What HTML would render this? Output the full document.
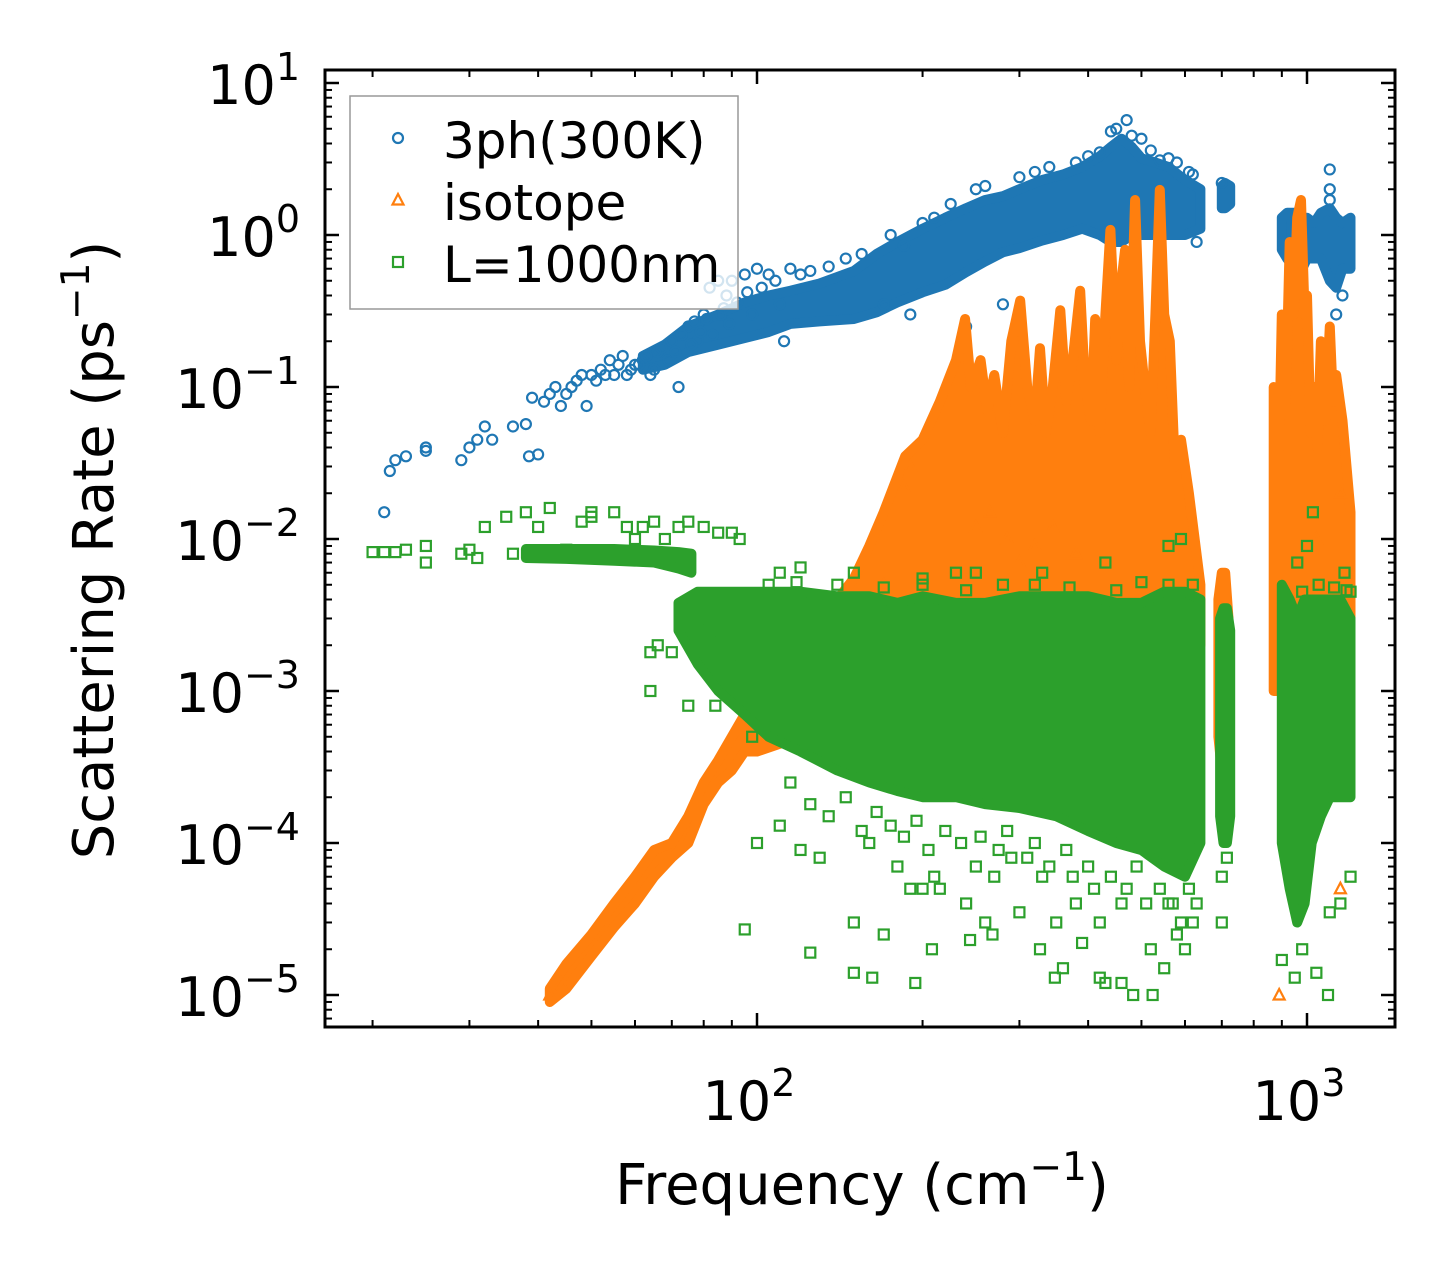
<!DOCTYPE html>
<html><head><meta charset="utf-8"><style>
html,body{margin:0;padding:0;background:#fff;}
svg{display:block;font-family:"DejaVu Sans","Liberation Sans",sans-serif;}
</style></head><body>
<svg id="chart" width="1455" height="1277" viewBox="0 0 1455 1277" xmlns="http://www.w3.org/2000/svg">
<rect width="1455" height="1277" fill="#fff"/>
<g id="marks"></g>
<g id="axes"></g>
<g id="legend"></g>
</svg>
<script>
// ---- data ----
const xTickValues = [100, 1000];
const xTickExp = ["2", "3"];
const yTickValues = [10, 1, 0.1, 0.01, 0.001, 0.0001, 0.00001];
const yTickExp = ["1", "0", "\u22121", "\u22122", "\u22123", "\u22124", "\u22125"];

// 3ph dense bands
const blueBandF = [62,68,75,85,95,105,115,130,150,165,180,200,220,240,260,280,300,330,360,390,420,440,460,480,500,530,560,600,640];
const blueBandLo = [0.13,0.14,0.17,0.19,0.21,0.23,0.26,0.27,0.28,0.31,0.36,0.42,0.47,0.57,0.67,0.77,0.82,0.92,1.0,1.1,1.0,0.9,0.9,1.0,1.0,1.0,1.0,1.0,1.1];
const blueBandHi = [0.16,0.19,0.25,0.3,0.36,0.4,0.43,0.48,0.58,0.75,0.9,1.1,1.3,1.5,1.7,1.8,2.0,2.3,2.5,2.8,3.3,3.8,4.3,3.8,3.2,3.0,2.8,2.3,2.0];
const blueBand2F = [700,710,725];
const blueBand2Lo = [1.5,1.5,1.6];
const blueBand2Hi = [2.1,2.2,2.1];
const blueBand3F = [900,920,950,980,1000,1030,1060,1100,1130,1160,1200];
const blueBand3Lo = [0.8,0.7,0.6,0.6,0.7,0.7,0.7,0.5,0.45,0.6,0.6];
const blueBand3Hi = [1.3,1.4,1.4,1.2,1.3,1.2,1.4,1.5,1.3,1.2,1.3];
const bluePtsF = [21,21.5,22,23,25,25,29,30,31,32,33,36,38,38.5,39,40,41,42,43,44,45,46,47,48,49,50,52,54,55,57,60,62,64,66,70,72,75,78,80,82,85,88,90,95,100,105,110,112,120,170,190,240,280,420,440,470,500,560,630,700,1100,1100,1100,
  51,53,56,58,59,61,63,65,67,69,71,73,76,77,79,81,83,86,87,89,92,96,98,102,108,115,125,135,145,155,175,185,200,210,225,250,260,300,320,340,380,400,450,480,520,540,580,610,620,1130,1160];
const bluePtsV = [0.015,0.028,0.033,0.035,0.038,0.04,0.033,0.04,0.045,0.055,0.045,0.055,0.057,0.035,0.085,0.036,0.08,0.09,0.1,0.075,0.09,0.1,0.11,0.12,0.075,0.12,0.13,0.15,0.12,0.16,0.14,0.15,0.12,0.17,0.2,0.1,0.25,0.2,0.3,0.45,0.5,0.4,0.5,0.55,0.6,0.55,0.35,0.2,0.55,0.35,0.3,0.25,0.35,3.5,4.8,5.7,4.3,3.2,0.9,2.2,2.7,2.0,1.7,
  0.11,0.12,0.14,0.12,0.13,0.14,0.16,0.13,0.18,0.15,0.17,0.22,0.19,0.27,0.23,0.28,0.22,0.3,0.33,0.26,0.36,0.42,0.3,0.45,0.5,0.6,0.58,0.62,0.7,0.75,1.0,0.85,1.2,1.3,1.6,2.0,2.1,2.4,2.6,2.8,3.0,3.3,5.0,4.5,3.6,3.1,3.0,2.6,2.5,0.3,0.4];

// isotope dense bands
const orgBandF = [42,45,50,55,60,65,70,75,80,85,90,95,100,110,120,130,140,150,160,170,186,200,215,230,239,245,255,262,270,280,290,301,310,320,327,335,345,356,365,375,387,395,405,412,420,430,439,450,460,467,475,487,497,507,520,530,540,550,563,575,590,610,640];
const orgBandHi = [1.1e-5,1.6e-5,2.5e-5,4e-5,6e-5,9e-5,1e-4,1.5e-4,2.5e-4,3.5e-4,5e-4,7e-4,1e-3,1.5e-3,2.2e-3,3e-3,4e-3,5.5e-3,9e-3,0.015,0.035,0.045,0.08,0.15,0.28,0.1,0.15,0.07,0.12,0.05,0.2,0.37,0.1,0.06,0.18,0.05,0.1,0.32,0.08,0.15,0.43,0.1,0.06,0.28,0.05,0.3,1.08,0.15,0.5,0.8,0.1,1.7,0.2,0.1,0.05,0.3,1.98,0.3,0.2,0.03,0.045,0.02,0.005];
const orgBandLo = [0.9e-5,1.1e-5,1.8e-5,2.8e-5,4e-5,6e-5,8e-5,1e-4,1.8e-4,2.5e-4,3e-4,4e-4,4e-4,4.5e-4,5e-4,6e-4,7e-4,8e-4,1e-3,1e-3,1.2e-3,1.5e-3,2e-3,2e-3,2e-3,2e-3,2e-3,2e-3,2e-3,2e-3,2e-3,2e-3,2e-3,2e-3,2e-3,2e-3,2e-3,2e-3,2e-3,2e-3,2e-3,2e-3,2e-3,2e-3,2e-3,2e-3,2e-3,2e-3,2e-3,2e-3,2e-3,2e-3,2e-3,2e-3,2e-3,2e-3,2e-3,2e-3,2e-3,2e-3,2e-3,2e-3,2e-3];
const orgBand2F = [690,700,710,720];
const orgBand2Hi = [0.004,0.006,0.006,0.003];
const orgBand2Lo = [5e-4,3e-4,3e-4,5e-4];
const orgBand3F = [870,890,900,915,930,945,960,975,990,1000,1015,1030,1045,1060,1080,1100,1115,1130,1160,1200];
const orgBand3Hi = [0.1,0.04,0.3,0.08,0.9,0.3,1.3,1.7,0.3,0.4,0.05,0.1,0.04,0.2,0.06,0.25,0.08,0.12,0.06,0.015];
const orgBand3Lo = [1e-3,1e-3,1e-3,1e-3,1e-3,1e-3,1e-3,1e-3,1e-3,1e-3,1e-3,1e-3,1e-3,1e-3,1e-3,1e-3,1e-3,1e-3,1e-3,1e-3];
const orgPtsF = [190,185,890,1150,170,150,250,300,320,42,44,265,285,345,380,1040,1150,1180];
const orgPtsV = [0.03,0.022,1e-5,5e-5,0.005,0.003,0.012,0.007,0.009,1e-5,1.2e-5,0.015,0.01,0.012,0.008,0.01,0.02,0.006];

// L=1000nm bands
const grnFlatF = [38,45,55,65,72,76];
const grnFlatLo = [0.0075,0.0074,0.0072,0.007,0.0064,0.006];
const grnFlatHi = [0.0086,0.0086,0.0086,0.0084,0.0082,0.008];
const grnBandF = [72,78,85,95,105,120,140,160,180,200,230,260,300,350,400,450,500,550,600,640];
const grnBandHi = [0.0038,0.0045,0.0045,0.0045,0.0045,0.0045,0.0042,0.0042,0.0038,0.0042,0.0038,0.0038,0.0042,0.0042,0.0042,0.0038,0.0038,0.0045,0.0045,0.004];
const grnBandLo = [0.0025,0.0015,0.001,7e-4,5e-4,4e-4,3e-4,2.5e-4,2.2e-4,2e-4,2e-4,1.8e-4,1.7e-4,1.5e-4,1.2e-4,1e-4,9e-5,7e-5,6e-5,1e-4];
const grnBand2F = [695,705,715,725];
const grnBand2Hi = [3e-3,3.5e-3,3.5e-3,2.5e-3];
const grnBand2Lo = [1.5e-4,1e-4,1e-4,1.5e-4];
const grnBand3F = [900,930,960,990,1020,1060,1100,1150,1200];
const grnBand3Hi = [5e-3,4e-3,3e-3,4e-3,4e-3,4e-3,4e-3,4e-3,3e-3];
const grnBand3Lo = [1e-4,5e-5,3e-5,4e-5,1e-4,1.5e-4,2e-4,2e-4,2e-4];
const grnPtsF = [20,21,22,23,25,25,29,30,31,32,35,36,38,40,42,45,48,50,50,55,58,60,62,65,68,72,75,80,85,90,93,
  95,120,125,150,150,162,170,180,194,208,215,244,240,260,268,300,327,348,350,360,390,420,430,483,460,524,520,550,580,600,620,700,700,715,900,950,980,1092,1040,1100,1150,1200,
  100,110,130,160,190,200,210,250,270,290,330,380,420,460,560,
  64,66,70,64,75,84,78,82,90,95,98,
  110,150,200,250,430,560,590,1025,1000,1170,1200,960,330,230,120,
  115,125,135,145,155,165,175,185,195,205,220,235,255,275,285,310,320,340,365,375,400,410,440,470,490,510,540,570,590,610,630,
  105,118,140,170,200,240,280,320,370,450,500,560,620,980,1050,1120,1180];
const grnPtsV = [0.0082,0.0082,0.0082,0.0085,0.009,0.007,0.008,0.0085,0.0075,0.012,0.014,0.008,0.015,0.012,0.016,0.0085,0.013,0.014,0.015,0.015,0.012,0.01,0.012,0.013,0.01,0.012,0.013,0.012,0.011,0.011,0.01,
  2.7e-5,9e-5,1.9e-5,1.4e-5,3e-5,1.3e-5,2.5e-5,7e-5,1.2e-5,2e-5,5e-5,2.3e-5,4e-5,3e-5,2.5e-5,3.5e-5,2e-5,1.3e-5,3e-5,1.5e-5,2.2e-5,1.3e-5,1.2e-5,1e-5,1.2e-5,1e-5,2e-5,1.5e-5,2.5e-5,2e-5,3e-5,6e-5,3e-5,8e-5,1.7e-5,1.3e-5,2e-5,1e-5,1.4e-5,3.5e-5,4e-5,6e-5,
  1e-4,1.3e-4,8e-5,1e-4,5e-5,5e-5,6e-5,7e-5,6e-5,8e-5,6e-5,4e-5,3e-5,4e-5,4e-5,
  1.8e-3,2e-3,1.8e-3,1e-3,8e-4,8e-4,3e-3,2.5e-3,1.5e-3,1e-3,5e-4,
  0.006,0.006,0.0055,0.006,0.007,0.009,0.01,0.015,0.009,0.006,0.0045,0.007,0.006,0.006,0.0065,
  2.5e-4,1.8e-4,1.5e-4,2e-4,1.2e-4,1.6e-4,1.3e-4,1.1e-4,1.4e-4,9e-5,1.2e-4,1e-4,1.1e-4,9e-5,1.2e-4,8e-5,1e-4,7e-5,9e-5,6e-5,7e-5,5e-5,6e-5,5e-5,7e-5,4e-5,5e-5,4e-5,3e-5,5e-5,4e-5,
  0.005,0.0052,0.005,0.0048,0.005,0.0046,0.005,0.005,0.0048,0.0046,0.0052,0.005,0.005,0.0045,0.005,0.0048,0.0046];

const C_BLUE = "#1f77b4", C_ORG = "#ff7f0e", C_GRN = "#2ca02c";
// ---- axes ----
const X0 = 325, X1 = 1395, Y0 = 70, Y1 = 1027;
function xs(f){ return 757 + 550*(Math.log10(f)-2); }
function ys(v){ return 235 - 152*Math.log10(v); }
const NS = "http://www.w3.org/2000/svg";
function mk(tag, attrs, parent){ const e=document.createElementNS(NS,tag); for(const k in attrs) e.setAttribute(k, attrs[k]); parent.appendChild(e); return e; }

const marks = document.getElementById('marks');
const clip = mk('clipPath',{id:'pc'},marks);
mk('rect',{x:X0,y:Y0,width:X1-X0,height:Y1-Y0},clip);
const gClip = mk('g',{'clip-path':'url(#pc)'},marks);



function band(F, Lo, Hi, color, name){
  let pts=[];
  for(let i=0;i<F.length;i++) pts.push(xs(F[i]).toFixed(1)+','+ys(Hi[i]).toFixed(1));
  for(let i=F.length-1;i>=0;i--) pts.push(xs(F[i]).toFixed(1)+','+ys(Lo[i]).toFixed(1));
  const p = mk('polygon',{points:pts.join(' '),fill:color,stroke:color,'stroke-width':10,'stroke-linejoin':'round'},gClip);
  
  
}
function marker(type, x, y, color, parent){
  let e;
  if(type==='o') e = mk('circle',{cx:x,cy:y,r:5,fill:'none',stroke:color,'stroke-width':2.2},parent);
  else if(type==='^') e = mk('polygon',{points:`${x},${y-6} ${x-5.5},${y+4.5} ${x+5.5},${y+4.5}`,fill:'none',stroke:color,'stroke-width':2.2},parent);
  else e = mk('rect',{x:x-5,y:y-5,width:10,height:10,fill:'none',stroke:color,'stroke-width':2.2},parent);
  return e;
}
function pts(F, V, type, color, name){
  const g = mk('g',{},gClip);
  
  
  for(let i=0;i<F.length;i++){
    const e = marker(type, xs(F[i]), ys(V[i]), color, g);
    
    
  }
}
band(blueBandF,blueBandLo,blueBandHi,C_BLUE,'3ph-dense-main');
band(blueBand2F,blueBand2Lo,blueBand2Hi,C_BLUE,'3ph-dense-700');
band(blueBand3F,blueBand3Lo,blueBand3Hi,C_BLUE,'3ph-dense-1000');
pts(bluePtsF,bluePtsV,'o',C_BLUE,'3ph-points');
band(orgBandF,orgBandLo,orgBandHi,C_ORG,'isotope-dense-main');
band(orgBand2F,orgBand2Lo,orgBand2Hi,C_ORG,'isotope-dense-700');
band(orgBand3F,orgBand3Lo,orgBand3Hi,C_ORG,'isotope-dense-1000');
pts(orgPtsF,orgPtsV,'^',C_ORG,'isotope-points');
band(grnFlatF,grnFlatLo,grnFlatHi,C_GRN,'boundary-dense-flat');
band(grnBandF,grnBandLo,grnBandHi,C_GRN,'boundary-dense-main');
band(grnBand2F,grnBand2Lo,grnBand2Hi,C_GRN,'boundary-dense-700');
band(grnBand3F,grnBand3Lo,grnBand3Hi,C_GRN,'boundary-dense-1000');
pts(grnPtsF,grnPtsV,'s',C_GRN,'boundary-points');

// axes
const axes = document.getElementById('axes');
const frame = mk('rect',{x:X0,y:Y0,width:X1-X0,height:Y1-Y0,fill:'none',stroke:'#000','stroke-width':3},axes);


const ticks = mk('g',{stroke:'#000'},axes);


for(let d=1; d<=3; d++){
  for(let m=1;m<10;m++){
    const f = m*Math.pow(10,d); const x = xs(f);
    if(x<X0||x>X1) continue;
    const L = m===1?14:7, w = m===1?2.5:2;
    mk('line',{x1:x,y1:Y1,x2:x,y2:Y1-L,'stroke-width':w},ticks);
    mk('line',{x1:x,y1:Y0,x2:x,y2:Y0+L,'stroke-width':w},ticks);
  }
}
for(let d=-6; d<=1; d++){
  for(let m=1;m<10;m++){
    const v = m*Math.pow(10,d); const y = ys(v);
    if(y<Y0||y>Y1) continue;
    const L = m===1?14:7, w = m===1?2.5:2;
    mk('line',{x1:X0,y1:y,x2:X0+L,y2:y,'stroke-width':w},ticks);
    mk('line',{x1:X1,y1:y,x2:X1-L,y2:y,'stroke-width':w},ticks);
  }
}
for(let i=0;i<xTickValues.length;i++){
  const t = mk('text',{x:xs(xTickValues[i])-8,y:1120,'text-anchor':'middle','font-size':54,fill:'#000'},axes);
  
  
  t.innerHTML = '10<tspan dy="-24" font-size="38">'+xTickExp[i]+'</tspan>';
}
for(let i=0;i<yTickValues.length;i++){
  const t = mk('text',{x:300,y:ys(yTickValues[i])+21,'text-anchor':'end','font-size':54,fill:'#000'},axes);
  
  
  t.innerHTML = '10<tspan dy="-24" font-size="38">'+yTickExp[i]+'</tspan>';
}
const xt = mk('text',{x:862,y:1204,'text-anchor':'middle','font-size':56,fill:'#000'},axes);


xt.innerHTML = 'Frequency (cm<tspan dy="-24" font-size="39">\u22121</tspan><tspan dy="24">)</tspan>';
const yt = mk('text',{x:0,y:0,'text-anchor':'middle','font-size':56,fill:'#000',transform:'translate(113,550) rotate(-90)'},axes);


yt.innerHTML = 'Scattering Rate (ps<tspan dy="-24" font-size="39">\u22121</tspan><tspan dy="24">)</tspan>';

// legend
const lg = document.getElementById('legend');
const lbox = mk('rect',{x:350,y:96,width:388,height:213,fill:'#fff','fill-opacity':0.8,stroke:'#999','stroke-width':1.5},lg);


const legendItems = [['o',C_BLUE,'3ph(300K)'],['^',C_ORG,'isotope'],['s',C_GRN,'L=1000nm']];
legendItems.forEach((it,i)=>{
  const y = 140 + i*62;
  const g = mk('g',{},lg);
  
  
  marker(it[0], 398, y-2, it[1], g);
  const t = mk('text',{x:443,y:y+18,'font-size':50,fill:'#000'},g);
  t.textContent = it[2];
});
</script>
</body></html>
